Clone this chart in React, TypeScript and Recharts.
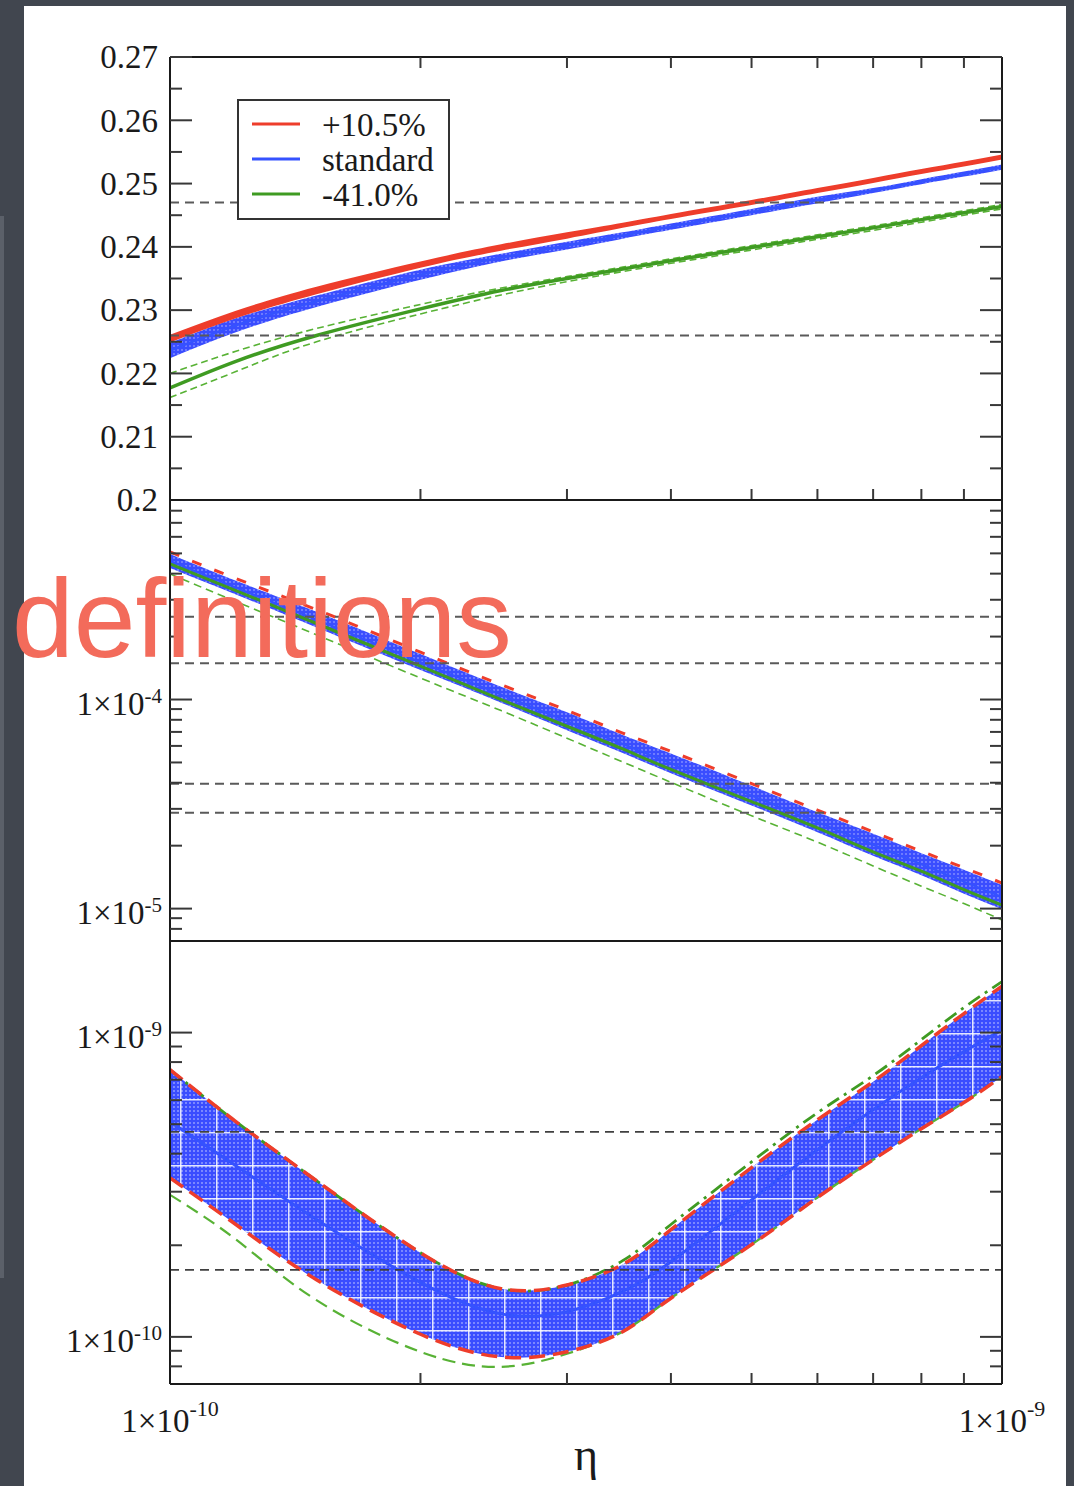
import React from 'react';
import { ComposedChart, Area, Line, XAxis, YAxis, ReferenceLine } from 'recharts';

const SERIF = '"Liberation Serif", "Times New Roman", serif';
const INK = '#1a1a1a';
const TICK = '#383838';
const RED = '#ee3d2b';
const BLUE = '#3552ff';
const GREEN = '#3f9b22';
const LIGHT_GREEN = '#58b235';
const DASH_GREY = '#5a5a5a';

// eta grid shared by the three panels
const eta = [1.0e-10, 1.2e-10, 1.5e-10, 2.0e-10, 2.5e-10, 3.0e-10, 3.5e-10, 4.0e-10, 5.0e-10, 6.0e-10, 7.0e-10, 8.0e-10, 9.0e-10, 1.0e-9];
const etaTicks = [1e-10, 2e-10, 3e-10, 4e-10, 5e-10, 6e-10, 7e-10, 8e-10, 9e-10, 1e-9];
const etaEdges = [1e-10, 1e-9];

// top panel: helium mass fraction
const p1Red = [0.2255, 0.2293, 0.2331, 0.2372, 0.2399, 0.2418, 0.2434, 0.2448, 0.247, 0.2489, 0.2505, 0.2519, 0.2531, 0.2542];
const p1RedLo = [0.2249, 0.2287, 0.2325, 0.2367, 0.2394, 0.2413, 0.243, 0.2444, 0.2466, 0.2485, 0.2501, 0.2515, 0.2527, 0.2538];
const p1RedHi = [0.2261, 0.2299, 0.2337, 0.2377, 0.2404, 0.2423, 0.2438, 0.2452, 0.2474, 0.2493, 0.2509, 0.2523, 0.2535, 0.2546];
const p1Blue = [0.2236, 0.2276, 0.2314, 0.2356, 0.2383, 0.2402, 0.2418, 0.2432, 0.2455, 0.2474, 0.2489, 0.2503, 0.2515, 0.2526];
const p1BlueLo = [0.2224, 0.2265, 0.2305, 0.2348, 0.2377, 0.2396, 0.2413, 0.2427, 0.245, 0.2469, 0.2485, 0.2499, 0.2511, 0.2522];
const p1BlueHi = [0.2248, 0.2287, 0.2323, 0.2364, 0.2389, 0.2408, 0.2423, 0.2437, 0.246, 0.2479, 0.2493, 0.2507, 0.2519, 0.253];
const p1Green = [0.2177, 0.2219, 0.226, 0.2302, 0.2331, 0.235, 0.2365, 0.2378, 0.2399, 0.2416, 0.243, 0.2443, 0.2454, 0.2464];
const p1GreenHi = [0.22, 0.2235, 0.2271, 0.2309, 0.2335, 0.2353, 0.2368, 0.2381, 0.2402, 0.2419, 0.2433, 0.2446, 0.2457, 0.2467];
const p1GreenLo = [0.2162, 0.2203, 0.225, 0.2294, 0.2324, 0.2345, 0.2361, 0.2374, 0.2395, 0.2412, 0.2426, 0.2439, 0.245, 0.246];
const p1Ref = [0.247, 0.226];
const p1Ticks = [0.2, 0.205, 0.21, 0.215, 0.22, 0.225, 0.23, 0.235, 0.24, 0.245, 0.25, 0.255, 0.26, 0.265, 0.27];
const p1Majors = [0.2, 0.21, 0.22, 0.23, 0.24, 0.25, 0.26, 0.27];

// middle panel
const p2RedHi = [5.08e-4, 3.79e-4, 2.69e-4, 1.685e-4, 1.177e-4, 8.88e-5, 6.91e-5, 5.65e-5, 3.96e-5, 2.96e-5, 2.33e-5, 1.88e-5, 1.568e-5, 1.325e-5];
const p2BlueHi = [4.97e-4, 3.7e-4, 2.63e-4, 1.65e-4, 1.152e-4, 8.69e-5, 6.77e-5, 5.52e-5, 3.87e-5, 2.89e-5, 2.28e-5, 1.84e-5, 1.535e-5, 1.296e-5];
const p2Blue = [4.6e-4, 3.43e-4, 2.41e-4, 1.51e-4, 1.055e-4, 7.87e-5, 6.13e-5, 4.95e-5, 3.47e-5, 2.59e-5, 2.02e-5, 1.63e-5, 1.345e-5, 1.136e-5];
const p2BlueLo = [4.26e-4, 3.18e-4, 2.21e-4, 1.383e-4, 9.66e-5, 7.13e-5, 5.55e-5, 4.44e-5, 3.11e-5, 2.32e-5, 1.79e-5, 1.445e-5, 1.179e-5, 9.96e-6];
const p2Green = [4.45e-4, 3.32e-4, 2.31e-4, 1.445e-4, 9.99e-5, 7.45e-5, 5.8e-5, 4.63e-5, 3.25e-5, 2.43e-5, 1.87e-5, 1.51e-5, 1.232e-5, 1.04e-5];
const p2GreenLo = [3.99e-4, 2.94e-4, 2.04e-4, 1.267e-4, 8.85e-5, 6.53e-5, 5.03e-5, 4.02e-5, 2.78e-5, 2.08e-5, 1.6e-5, 1.28e-5, 1.057e-5, 8.82e-6];
const p2Ref = [2.49e-4, 1.49e-4, 3.96e-5, 2.87e-5];
const p2Ticks = [8e-6, 9e-6, 1e-5, 2e-5, 3e-5, 4e-5, 5e-5, 6e-5, 7e-5, 8e-5, 9e-5, 1e-4, 2e-4, 3e-4, 4e-4, 5e-4, 6e-4, 7e-4, 8e-4];
const p2Majors = [1e-5, 1e-4];

// bottom panel
const p3Hi = [7.55e-10, 5.1e-10, 3.26e-10, 1.89e-10, 1.44e-10, 1.48e-10, 1.73e-10, 2.25e-10, 3.6e-10, 5.17e-10, 6.9e-10, 9.06e-10, 1.155e-9, 1.42e-9];
const p3Mid = [5.1e-10, 3.65e-10, 2.43e-10, 1.51e-10, 1.19e-10, 1.21e-10, 1.41e-10, 1.765e-10, 2.82e-10, 4.12e-10, 5.58e-10, 7.11e-10, 8.66e-10, 1.02e-9];
const p3Lo = [3.33e-10, 2.34e-10, 1.54e-10, 1.02e-10, 8.59e-11, 8.93e-11, 1.04e-10, 1.34e-10, 2.01e-10, 2.87e-10, 3.82e-10, 4.83e-10, 5.89e-10, 7.17e-10];
const p3GreenHi = [7.55e-10, 5.1e-10, 3.26e-10, 1.89e-10, 1.44e-10, 1.48e-10, 1.78e-10, 2.34e-10, 3.76e-10, 5.45e-10, 7.22e-10, 9.48e-10, 1.208e-9, 1.47e-9];
const p3GreenLo = [2.93e-10, 2.09e-10, 1.32e-10, 8.93e-11, 7.97e-11, 8.8e-11, 1.04e-10, 1.34e-10, 2.01e-10, 2.87e-10, 3.82e-10, 4.83e-10, 5.89e-10, 7.17e-10];
const p3Ref = [4.72e-10, 1.66e-10];
const p3Ticks = [8e-11, 9e-11, 1e-10, 2e-10, 3e-10, 4e-10, 5e-10, 6e-10, 7e-10, 8e-10, 9e-10, 1e-9];
const p3Majors = [1e-10, 1e-9];

const legendLabels = ['+10.5%', 'standard', '-41.0%'];
const legendColors = [RED, BLUE, GREEN];

const rows1 = eta.map((e, i) => ({
  eta: e,
  red: p1Red[i],
  redBand: [p1RedLo[i], p1RedHi[i]],
  blue: p1Blue[i],
  blueBand: [p1BlueLo[i], p1BlueHi[i]],
  green: p1Green[i],
  greenHi: p1GreenHi[i],
  greenLo: p1GreenLo[i],
}));

const rows2 = eta.map((e, i) => ({
  eta: e,
  redHi: p2RedHi[i],
  blue: p2Blue[i],
  blueBand: [p2BlueLo[i], p2BlueHi[i]],
  green: p2Green[i],
  greenLo: p2GreenLo[i],
}));

const rows3 = eta.map((e, i) => ({
  eta: e,
  hi: p3Hi[i],
  mid: p3Mid[i],
  lo: p3Lo[i],
  band: [p3Lo[i], p3Hi[i]],
  greenHi: p3GreenHi[i],
  greenLo: p3GreenLo[i],
}));

const isMajor = (v: number, majors: number[]) => majors.some((m) => Math.abs(v - m) <= Math.abs(m) * 1e-6);

const linLabel = (v: number, x: number, y: number) => (
  <text x={x - 12} y={y} dy="0.34em" textAnchor="end" fontSize={33} fontFamily={SERIF} fill={INK}>
    {String(Number(v.toFixed(3)))}
  </text>
);

const powLabel = (v: number, x: number, y: number) => (
  <text x={x - 8} y={y + 15} textAnchor="end" fontSize={33} fontFamily={SERIF} fill={INK}>
    1×10<tspan fontSize={21} dy={-12}>{Math.round(Math.log10(v))}</tspan>
  </text>
);

const yTick = (side: 'left' | 'right', majors: number[], label?: (v: number, x: number, y: number) => React.ReactNode) =>
  (props: any) => {
    const { x, y, payload } = props;
    const v = payload.value;
    const major = isMajor(v, majors);
    const len = major ? 22 : 12;
    const dir = side === 'left' ? 1 : -1;
    return (
      <g>
        <line x1={x} y1={y} x2={x + dir * len} y2={y} stroke={TICK} strokeWidth={2} />
        {side === 'left' && major && label ? label(v, x, y) : null}
      </g>
    );
  };

const xTick = (side: 'top' | 'bottom', withLabels: boolean) => (props: any) => {
  const { x, y, payload } = props;
  const v = payload.value;
  const edge = isMajor(v, etaEdges);
  const dir = side === 'top' ? 1 : -1;
  return (
    <g>
      {!edge && <line x1={x} y1={y} x2={x} y2={y + dir * 11} stroke={TICK} strokeWidth={2} />}
      {withLabels && edge && (
        <text x={x} y={y + 48} textAnchor="middle" fontSize={33} fontFamily={SERIF} fill={INK}>
          1×10<tspan fontSize={22} dy={-16}>{Math.round(Math.log10(v))}</tspan>
        </text>
      )}
    </g>
  );
};

const frame = { stroke: INK, strokeWidth: 2 };

const axes = (
  yDomain: [number, number],
  yScale: 'linear' | 'log',
  yTicks: number[],
  yMajors: number[],
  label: (v: number, x: number, y: number) => React.ReactNode,
  topTicks: boolean,
  bottomTicks: boolean,
  bottomLabels: boolean,
  hT: number,
  hB: number,
) => [
  <XAxis
    key="xb"
    xAxisId="b"
    dataKey="eta"
    type="number"
    scale="log"
    domain={[1e-10, 1e-9]}
    allowDataOverflow
    ticks={etaTicks}
    interval={0}
    orientation="bottom"
    height={hB}
    tickSize={0}
    tickMargin={0}
    tickLine={false}
    axisLine={frame}
    tick={bottomTicks ? xTick('bottom', bottomLabels) : false}
    label={
      bottomLabels
        ? (p: any) => (
            <text
              x={p.viewBox.x + p.viewBox.width / 2}
              y={p.viewBox.y + 86}
              textAnchor="middle"
              fontSize={46}
              fontFamily={SERIF}
              fill={INK}
            >
              η
            </text>
          )
        : undefined
    }
  />,
  <XAxis
    key="xt"
    xAxisId="t"
    dataKey="eta"
    type="number"
    scale="log"
    domain={[1e-10, 1e-9]}
    allowDataOverflow
    ticks={etaTicks}
    interval={0}
    orientation="top"
    height={hT}
    tickSize={0}
    tickMargin={0}
    tickLine={false}
    axisLine={frame}
    tick={topTicks ? xTick('top', false) : false}
  />,
  <YAxis
    key="yl"
    yAxisId="l"
    type="number"
    scale={yScale}
    domain={yDomain}
    allowDataOverflow
    ticks={yTicks}
    interval={0}
    orientation="left"
    width={60}
    tickSize={0}
    tickMargin={0}
    tickLine={false}
    axisLine={frame}
    tick={yTick('left', yMajors, label)}
  />,
  <YAxis
    key="yr"
    yAxisId="r"
    type="number"
    scale={yScale}
    domain={yDomain}
    allowDataOverflow
    ticks={yTicks}
    interval={0}
    orientation="right"
    width={40}
    tickSize={0}
    tickMargin={0}
    tickLine={false}
    axisLine={frame}
    tick={yTick('right', yMajors)}
  />,
];

const bandPattern = (id: string, withGrid: boolean) => (
  <pattern id={id} width={4} height={4} patternUnits="userSpaceOnUse">
    <rect width={4} height={4} fill="#3a4dff" />
    <circle cx={2} cy={2} r={0.8} fill="#ffffff" fillOpacity={withGrid ? 0.75 : 0.6} />
  </pattern>
);

const MARGIN_X = { left: 110, right: 32 };
const CURVE = 'natural';

export default function App() {
  return (
    <div style={{ position: 'absolute', left: 0, top: 0, width: 1074, height: 1486, background: '#41464f', overflow: 'hidden' }}>
      <div style={{ position: 'absolute', left: 0, top: 216, width: 4, height: 1062, background: '#5b6069' }} />
      <div style={{ position: 'absolute', left: 24, top: 6, width: 1042, height: 1480, background: '#ffffff' }} />

      {/* top panel */}
      <div style={{ position: 'absolute', left: 0, top: 0 }}>
        <ComposedChart width={1074} height={540} data={rows1} margin={{ top: 27, bottom: 10, ...MARGIN_X }}>
          <defs>{bandPattern('p1dots', false)}</defs>
          {axes([0.2, 0.27], 'linear', p1Ticks, p1Majors, linLabel, true, true, false, 30, 30)}
          <Line xAxisId="b" yAxisId="l" type={CURVE} dataKey="greenHi" stroke={LIGHT_GREEN} strokeWidth={1.6} strokeDasharray="7 4" dot={false} activeDot={false} isAnimationActive={false} />
          <Line xAxisId="b" yAxisId="l" type={CURVE} dataKey="greenLo" stroke={LIGHT_GREEN} strokeWidth={1.6} strokeDasharray="7 4" dot={false} activeDot={false} isAnimationActive={false} />
          <Line xAxisId="b" yAxisId="l" type={CURVE} dataKey="green" stroke={GREEN} strokeWidth={3.5} dot={false} activeDot={false} isAnimationActive={false} />
          <Area xAxisId="b" yAxisId="l" type={CURVE} dataKey="blueBand" stroke="none" fill="url(#p1dots)" fillOpacity={1} isAnimationActive={false} />
          <Line xAxisId="b" yAxisId="l" type={CURVE} dataKey="blue" stroke={BLUE} strokeWidth={2.5} dot={false} activeDot={false} isAnimationActive={false} />
          <Area xAxisId="b" yAxisId="l" type={CURVE} dataKey="redBand" stroke="none" fill={RED} fillOpacity={1} isAnimationActive={false} />
          <Line xAxisId="b" yAxisId="l" type={CURVE} dataKey="red" stroke={RED} strokeWidth={3} dot={false} activeDot={false} isAnimationActive={false} />
          {p1Ref.map((v) => (
            <ReferenceLine key={v} xAxisId="b" yAxisId="l" y={v} stroke={DASH_GREY} strokeWidth={2} strokeDasharray="9 6" />
          ))}
        </ComposedChart>
      </div>

      {/* middle panel */}
      <div style={{ position: 'absolute', left: 0, top: 460 }}>
        <ComposedChart width={1074} height={520} data={rows2} margin={{ top: 10, bottom: 9, ...MARGIN_X }}>
          <defs>{bandPattern('p2dots', false)}</defs>
          {axes([7e-6, 9e-4], 'log', p2Ticks, p2Majors, powLabel, false, false, false, 30, 30)}
          <Line xAxisId="b" yAxisId="l" type={CURVE} dataKey="greenLo" stroke={LIGHT_GREEN} strokeWidth={1.6} strokeDasharray="8 5" dot={false} activeDot={false} isAnimationActive={false} />
          <Area xAxisId="b" yAxisId="l" type={CURVE} dataKey="blueBand" stroke="none" fill="url(#p2dots)" fillOpacity={1} isAnimationActive={false} />
          <Line xAxisId="b" yAxisId="l" type={CURVE} dataKey="blue" stroke={BLUE} strokeWidth={2} dot={false} activeDot={false} isAnimationActive={false} />
          <Line xAxisId="b" yAxisId="l" type={CURVE} dataKey="green" stroke={GREEN} strokeWidth={3} dot={false} activeDot={false} isAnimationActive={false} />
          <Line xAxisId="b" yAxisId="l" type={CURVE} dataKey="redHi" stroke={RED} strokeWidth={3} strokeDasharray="10 14" dot={false} activeDot={false} isAnimationActive={false} />
          {p2Ref.map((v) => (
            <ReferenceLine key={v} xAxisId="b" yAxisId="l" y={v} stroke={DASH_GREY} strokeWidth={2} strokeDasharray="9 6" />
          ))}
        </ComposedChart>
      </div>

      {/* bottom panel */}
      <div style={{ position: 'absolute', left: 0, top: 901 }}>
        <ComposedChart width={1074} height={585} data={rows3} margin={{ top: 10, bottom: 2, ...MARGIN_X }}>
          <defs>
            {bandPattern('p3dots', true)}
            <pattern id="p3grid" width={36} height={33} patternUnits="userSpaceOnUse">
              <line x1={0.75} y1={0} x2={0.75} y2={33} stroke="#ffffff" strokeWidth={1.5} strokeOpacity={0.85} />
              <line x1={0} y1={0.75} x2={36} y2={0.75} stroke="#ffffff" strokeWidth={1.5} strokeOpacity={0.85} />
            </pattern>
          </defs>
          {axes([7e-11, 2e-9], 'log', p3Ticks, p3Majors, powLabel, false, true, true, 30, 100)}
          <Area xAxisId="b" yAxisId="l" type={CURVE} dataKey="band" stroke="none" fill="url(#p3dots)" fillOpacity={1} isAnimationActive={false} />
          <Area xAxisId="b" yAxisId="l" type={CURVE} dataKey="band" stroke="none" fill="url(#p3grid)" fillOpacity={1} isAnimationActive={false} />
          <Line xAxisId="b" yAxisId="l" type={CURVE} dataKey="mid" stroke={BLUE} strokeWidth={3} dot={false} activeDot={false} isAnimationActive={false} />
          <Line xAxisId="b" yAxisId="l" type={CURVE} dataKey="greenLo" stroke={LIGHT_GREEN} strokeWidth={2.2} strokeDasharray="13 7" dot={false} activeDot={false} isAnimationActive={false} />
          <Line xAxisId="b" yAxisId="l" type={CURVE} dataKey="greenHi" stroke={GREEN} strokeWidth={2.8} strokeDasharray="14 6 3 6" dot={false} activeDot={false} isAnimationActive={false} />
          <Line xAxisId="b" yAxisId="l" type={CURVE} dataKey="hi" stroke={RED} strokeWidth={3.5} strokeDasharray="16 8" dot={false} activeDot={false} isAnimationActive={false} />
          <Line xAxisId="b" yAxisId="l" type={CURVE} dataKey="lo" stroke={RED} strokeWidth={3.5} strokeDasharray="16 8" dot={false} activeDot={false} isAnimationActive={false} />
          {p3Ref.map((v) => (
            <ReferenceLine key={v} xAxisId="b" yAxisId="l" y={v} stroke="#404040" strokeWidth={1.8} strokeDasharray="9 6" />
          ))}
        </ComposedChart>
      </div>

      {/* legend of the top panel */}
      <svg width={1074} height={540} style={{ position: 'absolute', left: 0, top: 0, pointerEvents: 'none' }}>
        <rect x={238} y={100} width={211} height={119} fill="#ffffff" stroke="#333333" strokeWidth={2} />
        {legendLabels.map((name, i) => (
          <g key={name}>
            <line x1={252} y1={124 + i * 35} x2={300} y2={124 + i * 35} stroke={legendColors[i]} strokeWidth={3} />
            <text x={322} y={136 + i * 35} fontSize={33} fontFamily={SERIF} fill={INK}>
              {name}
            </text>
          </g>
        ))}
      </svg>

      {/* slide overlay text, baseline near y=658 */}
      <div
        style={{
          position: 'absolute',
          left: 12,
          top: 574,
          fontSize: 111,
          lineHeight: '90px',
          fontFamily: '"Liberation Sans", Arial, sans-serif',
          color: '#f36b5b',
          whiteSpace: 'nowrap',
          pointerEvents: 'none',
        }}
      >
        definitions
      </div>
    </div>
  );
}
